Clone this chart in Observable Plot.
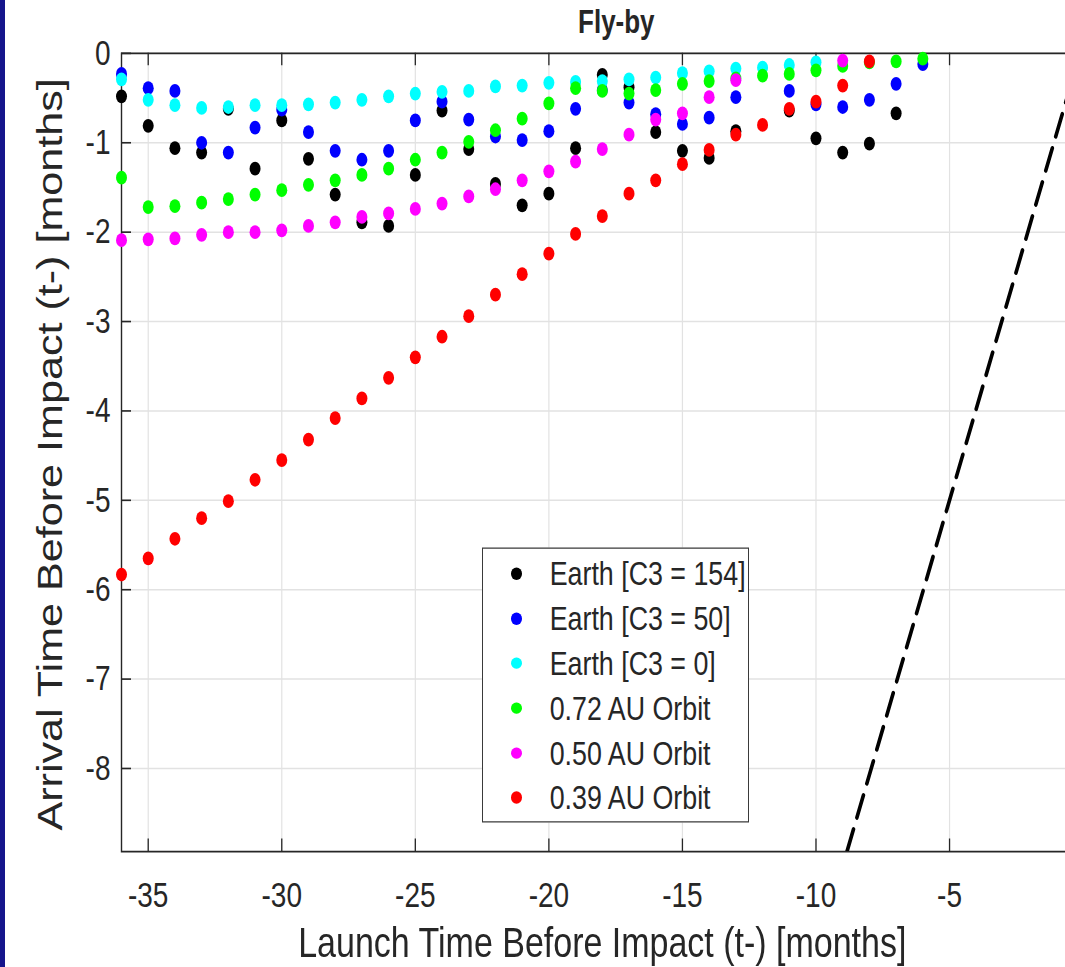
<!DOCTYPE html>
<html>
<head>
<meta charset="utf-8">
<script src="https://cdn.jsdelivr.net/npm/d3@7"></script>
<script src="https://cdn.jsdelivr.net/npm/@observablehq/plot@0.6"></script>
<style>
  html, body { margin: 0; padding: 0; background: #fff; overflow: hidden; width: 1065px; height: 967px; }
  #wrap { position: absolute; left: 0; top: 0; width: 1100px; height: 773.6px; transform: scale(1, 1.25); transform-origin: 0 0; }
  #strip { position: absolute; left: 0; top: 0; width: 5px; height: 967px; background: #15158c; }
  #legend { position: absolute; left: 481.7px; top: 437.8px; width: 265.3px; height: 218.4px; border: 1px solid #3a3a3a; background: #fff;
            font-family: "Liberation Sans", Arial, sans-serif; font-size: 26.8px; color: #262626; }
  .row { position: absolute; left: 0; height: 36px; line-height: 36px; white-space: nowrap; }
  .dot { position: absolute; left: 28.5px; top: 13px; width: 11px; height: 9.5px; border-radius: 50%; }
  .lab { position: absolute; left: 67px; top: 0; }
</style>
</head>
<body>
<div id="wrap"><div id="chart"></div><div id="legend"></div></div>
<div id="strip"></div>
<script>
// Launch months (t-) for every column of points
const launch = [-36,-35,-34,-33,-32,-31,-30,-29,-28,-27,-26,-25,-24,-23,-22,-21,-20,-19,-18,-17,-16,-15,-14,-13,-12,-11,-10,-9,-8,-7,-6];

// Arrival time before impact (months), per series, aligned with launch (null = no point)
const earthC3_154 = [-0.48,-0.81,-1.06,-1.11,-0.62,-1.29,-0.75,-1.18,-1.58,-1.89,-1.93,-1.36,-0.64,-1.07,-1.46,-1.70,-1.57,-1.06,-0.24,-0.38,-0.88,-1.09,-1.17,-0.87,null,-0.64,-0.95,-1.11,-1.01,-0.67,null];
const earthC3_50  = [-0.23,-0.39,-0.42,-1.00,-1.11,-0.83,-0.63,-0.88,-1.09,-1.19,-1.09,-0.75,-0.54,-0.74,-0.93,-0.97,-0.87,-0.62,-0.41,-0.55,-0.68,-0.79,-0.72,-0.49,null,-0.42,-0.57,-0.60,-0.52,-0.34,-0.12];
const earthC3_0   = [-0.29,-0.52,-0.58,-0.61,-0.60,-0.58,-0.58,-0.57,-0.55,-0.52,-0.48,-0.45,-0.43,-0.42,-0.37,-0.36,-0.33,-0.32,-0.31,-0.29,-0.27,-0.22,-0.20,-0.17,-0.16,-0.13,-0.10,null,null,null,null];
const orbit072    = [-1.39,-1.72,-1.71,-1.67,-1.63,-1.58,-1.53,-1.47,-1.42,-1.36,-1.29,-1.19,-1.11,-0.99,-0.86,-0.73,-0.56,-0.39,-0.42,-0.45,-0.41,-0.34,-0.31,-0.28,-0.25,-0.23,-0.19,-0.14,-0.10,-0.09,-0.06];
const orbit050    = [-2.09,-2.08,-2.07,-2.03,-2.00,-2.00,-1.98,-1.93,-1.89,-1.83,-1.79,-1.74,-1.68,-1.60,-1.52,-1.42,-1.32,-1.21,-1.07,-0.91,-0.74,-0.67,-0.49,-0.30,null,null,null,-0.08,null,null,null];
const orbit039    = [-5.83,-5.65,-5.43,-5.20,-5.01,-4.77,-4.55,-4.32,-4.08,-3.86,-3.63,-3.40,-3.17,-2.94,-2.70,-2.47,-2.24,-2.02,-1.82,-1.57,-1.42,-1.24,-1.08,-0.91,-0.80,-0.62,-0.54,-0.36,-0.09,null,null];

const seriesNames  = ["Earth [C3 = 154]", "Earth [C3 = 50]", "Earth [C3 = 0]", "0.72 AU Orbit", "0.50 AU Orbit", "0.39 AU Orbit"];
const seriesColors = ["#000000", "#0000ff", "#00ffff", "#00ff00", "#ff00ff", "#ff0000"];
const seriesValues = [earthC3_154, earthC3_50, earthC3_0, orbit072, orbit050, orbit039];

// Dashed reference line (launch vs arrival)
const refLaunch  = [-8.84, -0.4];
const refArrival = [-8.93, -0.29];

const xGrid = [-35, -30, -25, -20, -15, -10, -5, 0];
const xTickLabels = [-35, -30, -25, -20, -15, -10, -5];
const yTicks = [0, -1, -2, -3, -4, -5, -6, -7, -8];

const titleText = "Fly-by";
const xLabel = "Launch Time Before Impact (t-) [months]";
const yLabel = "Arrival Time Before Impact (t-) [months]";

const ink = "#262626";
const font = '"Liberation Sans", Arial, Helvetica, sans-serif';

const dotMarks = seriesValues.map((vals, i) => {
  const rows = launch.map((x, j) => ({x, y: vals[j]})).filter(d => d.y != null);
  return Plot.dot(rows, {x: "x", y: "y", r: 5.5, fill: seriesColors[i], stroke: "none"});
});

const refRows = refLaunch.map((x, i) => ({x, y: refArrival[i]}));

const chart = Plot.plot({
  width: 1100,
  height: 773.6,
  marginLeft: 121,
  marginRight: 17.4,
  marginTop: 42.2,
  marginBottom: 92.8,
  x: {domain: [-36, 0], axis: null},
  y: {domain: [-8.93, 0], axis: null},
  style: {fontFamily: font, background: "white", overflow: "visible"},
  marks: [
    Plot.ruleX(xGrid, {x: d => d, stroke: "#e2e2e2", strokeWidth: 1.2}),
    Plot.ruleY(yTicks, {y: d => d, stroke: "#e2e2e2", strokeWidth: 1.2}),
    Plot.tickX(xGrid, {x: d => d, insetBottom: 628.6, stroke: ink, strokeWidth: 1.3}),
    Plot.tickX(xGrid, {x: d => d, insetTop: 628.6, stroke: ink, strokeWidth: 1.3}),
    Plot.tickY(yTicks, {y: d => d, insetRight: 951.6, stroke: ink, strokeWidth: 1.3}),
    Plot.frame({stroke: ink, strokeWidth: 1.4}),
    ...dotMarks,
    Plot.line(refRows, {x: "x", y: "y", stroke: "black", strokeWidth: 3.6, strokeDasharray: "19,10", clip: true}),
    Plot.text(xTickLabels, {x: d => d, frameAnchor: "bottom", lineAnchor: "middle", textAnchor: "middle", dy: 35, text: d => String(d), fontSize: 28, fill: ink}),
    Plot.text(yTicks, {y: d => d, frameAnchor: "left", lineAnchor: "middle", textAnchor: "end", dx: -11, text: d => String(d), fontSize: 28, fill: ink}),
    Plot.text([titleText], {frameAnchor: "top", lineAnchor: "middle", textAnchor: "middle", dy: -24.6, dx: 14, text: d => d, fontSize: 26, fontWeight: "bold", fill: ink}),
    Plot.text([xLabel], {frameAnchor: "bottom", lineAnchor: "middle", textAnchor: "middle", dy: 73.6, text: d => d, fontSize: 34, fill: ink}),
    Plot.text([yLabel], {frameAnchor: "left", lineAnchor: "middle", textAnchor: "middle", dx: -71, dy: 1.5, rotate: -90, text: d => d, fontSize: 34.5, fill: ink})
  ]
});
document.getElementById("chart").appendChild(chart);

// Legend
const legend = document.getElementById("legend");
seriesNames.forEach((name, i) => {
  const row = document.createElement("div");
  row.className = "row";
  row.style.top = (21.6 + i * 35.8 - 18 - 1) + "px";
  const dot = document.createElement("span");
  dot.className = "dot";
  dot.style.background = seriesColors[i];
  const lab = document.createElement("span");
  lab.className = "lab";
  lab.textContent = name;
  row.appendChild(dot);
  row.appendChild(lab);
  legend.appendChild(row);
});
</script>
</body>
</html>
